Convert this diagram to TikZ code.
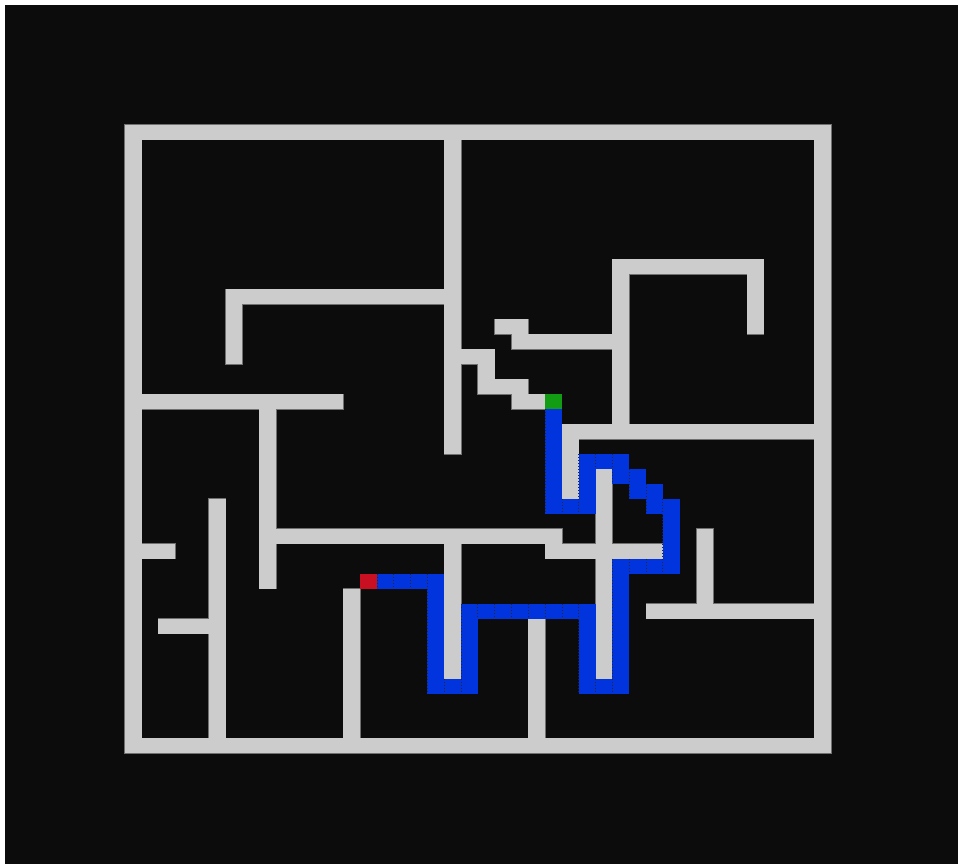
\documentclass[tikz,border=0pt]{standalone}
\definecolor{slate}{RGB}{12,12,12}
\definecolor{chalk}{RGB}{204,204,204}
\definecolor{cobalt}{RGB}{2,52,222}
\definecolor{moss}{RGB}{18,156,20}
\definecolor{crimson}{RGB}{200,16,34}
\tikzset{
  wall/.style={fill=chalk},
  wall edge/.style={draw=chalk!55!black,line width=0.75pt},
  trail/.style={fill=cobalt},
  trail seam/.style={draw=black!85,line width=0.75pt,dash pattern=on 0.75pt off 1.5pt},
  endcell/.style={fill=#1},
  endcell/.default=moss,
}
% walls and solution runs, as i1/j1/i2/j2 in maze cells
\def\walls{0/0/41/0, 0/0/0/41, 41/0/41/41, 0/41/41/41,
  19/0/19/21, 6/11/18/11, 6/11/6/15,
  20/15/21/15, 21/15/21/17, 21/17/23/17, 23/17/23/18, 23/18/24/18,
  22/13/23/13, 23/14/28/14,
  29/9/37/9, 29/9/29/20, 37/9/37/13,
  26/20/40/20, 26/20/26/24,
  0/18/12/18, 8/18/8/30, 9/27/25/27, 25/28/31/28,
  28/23/28/36, 19/27/19/36, 24/33/24/40, 13/31/13/40,
  5/25/5/40, 1/28/2/28, 2/33/4/33,
  34/27/34/31, 31/32/40/32}
\def\trailruns{25/19/25/25, 25/25/27/25, 27/22/27/25, 27/22/29/22,
  29/22/29/23, 29/23/30/23, 30/23/30/24, 30/24/31/24, 31/24/31/25,
  31/25/32/25, 32/25/32/29, 29/29/32/29, 29/29/29/37, 27/37/29/37,
  27/32/27/37, 20/32/27/32, 20/32/20/37, 18/37/20/37, 18/30/18/37,
  15/30/18/30}
\begin{document}
\begin{tikzpicture}[x=12.615pt,y=-11.2275pt]
  \useasboundingbox (-7.4138,-8.3300) rectangle (49.5422,49.3854);
  \fill[white] (-7.4138,-8.3300) rectangle (49.5422,49.3854);
  \fill[slate] (-7.1165,-7.9960) rectangle (49.5422,49.3854);
  % maze walls
  \foreach \a/\b/\c/\d in \walls \draw[wall edge] (\a,\b) rectangle (\c+1,\d+1);
  \foreach \a/\b/\c/\d in \walls \fill[wall] (\a,\b) rectangle (\c+1,\d+1);
  % solution path
  \foreach \a/\b/\c/\d in \trailruns
    \foreach \p in {\a,...,\c}
      \foreach \q in {\b,...,\d}
        \fill[trail] (\p,\q) rectangle (\p+1,\q+1);
  \foreach \a/\b/\c/\d in \trailruns
    \foreach \p in {\a,...,\c}
      \foreach \q in {\b,...,\d}
        \draw[trail seam] (\p,\q) -- (\p,\q+1);
  % start and goal
  \fill[endcell] (25,18) rectangle (26,19);
  \fill[endcell=crimson] (14,30) rectangle (15,31);
\end{tikzpicture}
\end{document}
